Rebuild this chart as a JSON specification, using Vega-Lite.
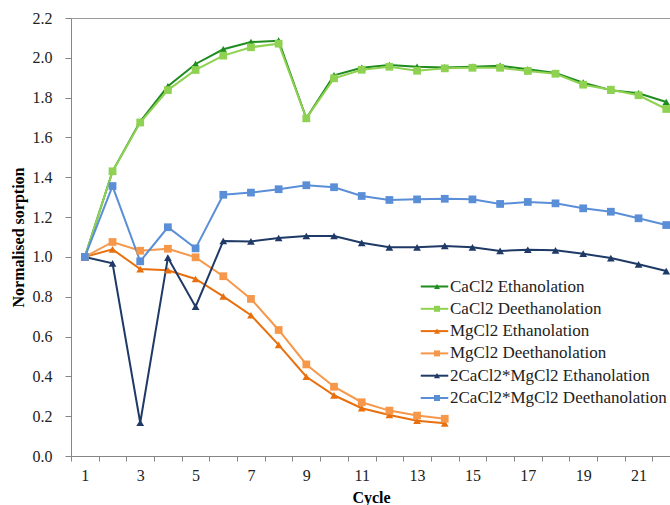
{
  "$schema": "https://vega.github.io/schema/vega-lite/v6.json",
  "autosize": {"type": "none"},
  "padding": {"left": 71, "top": 18, "right": 0, "bottom": 49},
  "width": 600,
  "height": 438,
  "background": "white",
  "config": {
    "font": "Liberation Serif",
    "view": {"stroke": "#9a9a9a", "strokeWidth": 1}
  },
  "data": {"values": [
    {"cycle": 1, "series": "CaCl2 Ethanolation", "value": 1.0},
    {"cycle": 2, "series": "CaCl2 Ethanolation", "value": 1.43},
    {"cycle": 3, "series": "CaCl2 Ethanolation", "value": 1.68},
    {"cycle": 4, "series": "CaCl2 Ethanolation", "value": 1.857},
    {"cycle": 5, "series": "CaCl2 Ethanolation", "value": 1.969},
    {"cycle": 6, "series": "CaCl2 Ethanolation", "value": 2.043},
    {"cycle": 7, "series": "CaCl2 Ethanolation", "value": 2.079},
    {"cycle": 8, "series": "CaCl2 Ethanolation", "value": 2.086},
    {"cycle": 9, "series": "CaCl2 Ethanolation", "value": 1.696},
    {"cycle": 10, "series": "CaCl2 Ethanolation", "value": 1.912},
    {"cycle": 11, "series": "CaCl2 Ethanolation", "value": 1.95},
    {"cycle": 12, "series": "CaCl2 Ethanolation", "value": 1.964},
    {"cycle": 13, "series": "CaCl2 Ethanolation", "value": 1.955},
    {"cycle": 14, "series": "CaCl2 Ethanolation", "value": 1.952},
    {"cycle": 15, "series": "CaCl2 Ethanolation", "value": 1.955},
    {"cycle": 16, "series": "CaCl2 Ethanolation", "value": 1.96},
    {"cycle": 17, "series": "CaCl2 Ethanolation", "value": 1.942},
    {"cycle": 18, "series": "CaCl2 Ethanolation", "value": 1.924},
    {"cycle": 19, "series": "CaCl2 Ethanolation", "value": 1.875},
    {"cycle": 20, "series": "CaCl2 Ethanolation", "value": 1.837},
    {"cycle": 21, "series": "CaCl2 Ethanolation", "value": 1.822},
    {"cycle": 22, "series": "CaCl2 Ethanolation", "value": 1.778},
    {"cycle": 1, "series": "CaCl2 Deethanolation", "value": 1.0},
    {"cycle": 2, "series": "CaCl2 Deethanolation", "value": 1.43},
    {"cycle": 3, "series": "CaCl2 Deethanolation", "value": 1.675},
    {"cycle": 4, "series": "CaCl2 Deethanolation", "value": 1.838},
    {"cycle": 5, "series": "CaCl2 Deethanolation", "value": 1.939},
    {"cycle": 6, "series": "CaCl2 Deethanolation", "value": 2.011},
    {"cycle": 7, "series": "CaCl2 Deethanolation", "value": 2.053},
    {"cycle": 8, "series": "CaCl2 Deethanolation", "value": 2.071},
    {"cycle": 9, "series": "CaCl2 Deethanolation", "value": 1.696},
    {"cycle": 10, "series": "CaCl2 Deethanolation", "value": 1.897},
    {"cycle": 11, "series": "CaCl2 Deethanolation", "value": 1.94},
    {"cycle": 12, "series": "CaCl2 Deethanolation", "value": 1.955},
    {"cycle": 13, "series": "CaCl2 Deethanolation", "value": 1.935},
    {"cycle": 14, "series": "CaCl2 Deethanolation", "value": 1.947},
    {"cycle": 15, "series": "CaCl2 Deethanolation", "value": 1.95},
    {"cycle": 16, "series": "CaCl2 Deethanolation", "value": 1.95},
    {"cycle": 17, "series": "CaCl2 Deethanolation", "value": 1.934},
    {"cycle": 18, "series": "CaCl2 Deethanolation", "value": 1.92},
    {"cycle": 19, "series": "CaCl2 Deethanolation", "value": 1.865},
    {"cycle": 20, "series": "CaCl2 Deethanolation", "value": 1.84},
    {"cycle": 21, "series": "CaCl2 Deethanolation", "value": 1.812},
    {"cycle": 22, "series": "CaCl2 Deethanolation", "value": 1.743},
    {"cycle": 1, "series": "MgCl2 Ethanolation", "value": 1.0},
    {"cycle": 2, "series": "MgCl2 Ethanolation", "value": 1.038},
    {"cycle": 3, "series": "MgCl2 Ethanolation", "value": 0.939},
    {"cycle": 4, "series": "MgCl2 Ethanolation", "value": 0.933},
    {"cycle": 5, "series": "MgCl2 Ethanolation", "value": 0.889},
    {"cycle": 6, "series": "MgCl2 Ethanolation", "value": 0.802},
    {"cycle": 7, "series": "MgCl2 Ethanolation", "value": 0.707},
    {"cycle": 8, "series": "MgCl2 Ethanolation", "value": 0.558},
    {"cycle": 9, "series": "MgCl2 Ethanolation", "value": 0.398},
    {"cycle": 10, "series": "MgCl2 Ethanolation", "value": 0.305},
    {"cycle": 11, "series": "MgCl2 Ethanolation", "value": 0.24},
    {"cycle": 12, "series": "MgCl2 Ethanolation", "value": 0.206},
    {"cycle": 13, "series": "MgCl2 Ethanolation", "value": 0.177},
    {"cycle": 14, "series": "MgCl2 Ethanolation", "value": 0.164},
    {"cycle": 1, "series": "MgCl2 Deethanolation", "value": 1.0},
    {"cycle": 2, "series": "MgCl2 Deethanolation", "value": 1.075},
    {"cycle": 3, "series": "MgCl2 Deethanolation", "value": 1.031},
    {"cycle": 4, "series": "MgCl2 Deethanolation", "value": 1.041},
    {"cycle": 5, "series": "MgCl2 Deethanolation", "value": 0.998},
    {"cycle": 6, "series": "MgCl2 Deethanolation", "value": 0.903},
    {"cycle": 7, "series": "MgCl2 Deethanolation", "value": 0.789},
    {"cycle": 8, "series": "MgCl2 Deethanolation", "value": 0.633},
    {"cycle": 9, "series": "MgCl2 Deethanolation", "value": 0.46},
    {"cycle": 10, "series": "MgCl2 Deethanolation", "value": 0.348},
    {"cycle": 11, "series": "MgCl2 Deethanolation", "value": 0.27},
    {"cycle": 12, "series": "MgCl2 Deethanolation", "value": 0.228},
    {"cycle": 13, "series": "MgCl2 Deethanolation", "value": 0.203},
    {"cycle": 14, "series": "MgCl2 Deethanolation", "value": 0.187},
    {"cycle": 1, "series": "2CaCl2*MgCl2 Ethanolation", "value": 1.0},
    {"cycle": 2, "series": "2CaCl2*MgCl2 Ethanolation", "value": 0.968},
    {"cycle": 3, "series": "2CaCl2*MgCl2 Ethanolation", "value": 0.167},
    {"cycle": 4, "series": "2CaCl2*MgCl2 Ethanolation", "value": 0.996},
    {"cycle": 5, "series": "2CaCl2*MgCl2 Ethanolation", "value": 0.75},
    {"cycle": 6, "series": "2CaCl2*MgCl2 Ethanolation", "value": 1.08},
    {"cycle": 7, "series": "2CaCl2*MgCl2 Ethanolation", "value": 1.078},
    {"cycle": 8, "series": "2CaCl2*MgCl2 Ethanolation", "value": 1.095},
    {"cycle": 9, "series": "2CaCl2*MgCl2 Ethanolation", "value": 1.105},
    {"cycle": 10, "series": "2CaCl2*MgCl2 Ethanolation", "value": 1.105},
    {"cycle": 11, "series": "2CaCl2*MgCl2 Ethanolation", "value": 1.071},
    {"cycle": 12, "series": "2CaCl2*MgCl2 Ethanolation", "value": 1.048},
    {"cycle": 13, "series": "2CaCl2*MgCl2 Ethanolation", "value": 1.048},
    {"cycle": 14, "series": "2CaCl2*MgCl2 Ethanolation", "value": 1.055},
    {"cycle": 15, "series": "2CaCl2*MgCl2 Ethanolation", "value": 1.048},
    {"cycle": 16, "series": "2CaCl2*MgCl2 Ethanolation", "value": 1.03},
    {"cycle": 17, "series": "2CaCl2*MgCl2 Ethanolation", "value": 1.036},
    {"cycle": 18, "series": "2CaCl2*MgCl2 Ethanolation", "value": 1.033},
    {"cycle": 19, "series": "2CaCl2*MgCl2 Ethanolation", "value": 1.016},
    {"cycle": 20, "series": "2CaCl2*MgCl2 Ethanolation", "value": 0.994},
    {"cycle": 21, "series": "2CaCl2*MgCl2 Ethanolation", "value": 0.963},
    {"cycle": 22, "series": "2CaCl2*MgCl2 Ethanolation", "value": 0.929},
    {"cycle": 1, "series": "2CaCl2*MgCl2 Deethanolation", "value": 1.0},
    {"cycle": 2, "series": "2CaCl2*MgCl2 Deethanolation", "value": 1.356},
    {"cycle": 3, "series": "2CaCl2*MgCl2 Deethanolation", "value": 0.978},
    {"cycle": 4, "series": "2CaCl2*MgCl2 Deethanolation", "value": 1.149},
    {"cycle": 5, "series": "2CaCl2*MgCl2 Deethanolation", "value": 1.043},
    {"cycle": 6, "series": "2CaCl2*MgCl2 Deethanolation", "value": 1.312},
    {"cycle": 7, "series": "2CaCl2*MgCl2 Deethanolation", "value": 1.323},
    {"cycle": 8, "series": "2CaCl2*MgCl2 Deethanolation", "value": 1.34},
    {"cycle": 9, "series": "2CaCl2*MgCl2 Deethanolation", "value": 1.36},
    {"cycle": 10, "series": "2CaCl2*MgCl2 Deethanolation", "value": 1.35},
    {"cycle": 11, "series": "2CaCl2*MgCl2 Deethanolation", "value": 1.306},
    {"cycle": 12, "series": "2CaCl2*MgCl2 Deethanolation", "value": 1.286},
    {"cycle": 13, "series": "2CaCl2*MgCl2 Deethanolation", "value": 1.289},
    {"cycle": 14, "series": "2CaCl2*MgCl2 Deethanolation", "value": 1.292},
    {"cycle": 15, "series": "2CaCl2*MgCl2 Deethanolation", "value": 1.289},
    {"cycle": 16, "series": "2CaCl2*MgCl2 Deethanolation", "value": 1.266},
    {"cycle": 17, "series": "2CaCl2*MgCl2 Deethanolation", "value": 1.276},
    {"cycle": 18, "series": "2CaCl2*MgCl2 Deethanolation", "value": 1.269},
    {"cycle": 19, "series": "2CaCl2*MgCl2 Deethanolation", "value": 1.244},
    {"cycle": 20, "series": "2CaCl2*MgCl2 Deethanolation", "value": 1.227},
    {"cycle": 21, "series": "2CaCl2*MgCl2 Deethanolation", "value": 1.194},
    {"cycle": 22, "series": "2CaCl2*MgCl2 Deethanolation", "value": 1.16}
  ]},
  "encoding": {
    "x": {
      "field": "cycle", "type": "quantitative",
      "scale": {"domain": [0.5, 22.172], "nice": false, "zero": false},
      "axis": {
        "title": "Cycle",
        "titleFont": "Liberation Serif", "titleFontSize": 16, "titleFontWeight": "bold", "titleColor": "#000",
        "titlePadding": 6,
        "values": [0.5,1.5,2.5,3.5,4.5,5.5,6.5,7.5,8.5,9.5,10.5,11.5,12.5,13.5,14.5,15.5,16.5,17.5,18.5,19.5,20.5,21.5],
        "labelExpr": "(datum.value + 0.5) % 2 == 1 ? format(datum.value + 0.5, 'd') : ''",
        "labelOffset": 13.85,
        "labelFlush": false, "labelOverlap": false, "labelBound": false,
        "labelFont": "Liberation Serif", "labelFontSize": 16, "labelColor": "#222",
        "labelPadding": 6,
        "grid": false, "tickSize": 5, "tickColor": "#868686", "domainColor": "#868686"
      }
    },
    "y": {
      "field": "value", "type": "quantitative",
      "scale": {"domain": [0, 2.2], "nice": false},
      "axis": {
        "title": "Normalised sorption",
        "titleFont": "Liberation Serif", "titleFontSize": 16, "titleFontWeight": "bold", "titleColor": "#000",
        "titlePadding": 6,
        "values": [0, 0.2, 0.4, 0.6, 0.8, 1.0, 1.2, 1.4, 1.6, 1.8, 2.0, 2.2],
        "format": ".1f",
        "labelFont": "Liberation Serif", "labelFontSize": 16, "labelColor": "#222",
        "labelPadding": 13,
        "grid": false, "tickSize": 6, "tickColor": "#868686", "domainColor": "#868686"
      }
    }
  },
  "layer": [
    {
      "mark": {"type": "line", "strokeWidth": 2},
      "encoding": {
        "color": {
          "field": "series", "type": "nominal",
          "sort": ["CaCl2 Ethanolation", "CaCl2 Deethanolation", "MgCl2 Ethanolation", "MgCl2 Deethanolation", "2CaCl2*MgCl2 Ethanolation", "2CaCl2*MgCl2 Deethanolation"],
          "scale": {"range": ["#1f8c1f", "#8fd151", "#e8700e", "#f7974a", "#1f3a66", "#5a8fd8"]},
          "legend": {
            "title": null, "orient": "none", "legendX": 355, "legendY": 260,
            "padding": 0, "rowPadding": 4.3,
            "symbolType": "M-2.5,0H2.5", "symbolSize": 121, "symbolStrokeWidth": 2,
            "labelOffset": 7, "labelLimit": 400,
            "labelFont": "Liberation Serif", "labelFontSize": 17, "labelColor": "#222"
          }
        }
      }
    },
    {
      "mark": {"type": "point", "filled": true, "size": 60, "opacity": 1, "strokeWidth": 0},
      "encoding": {
        "fill": {
          "field": "series", "type": "nominal",
          "scale": {
            "domain": ["CaCl2 Ethanolation", "CaCl2 Deethanolation", "MgCl2 Ethanolation", "MgCl2 Deethanolation", "2CaCl2*MgCl2 Ethanolation", "2CaCl2*MgCl2 Deethanolation"],
            "range": ["#1f8c1f", "#8fd151", "#e8700e", "#f7974a", "#1f3a66", "#5a8fd8"]
          },
          "legend": {
            "title": null, "orient": "none", "legendX": 357.5, "legendY": 260,
            "padding": 0, "rowPadding": 4.3, "symbolSize": 36, "symbolStrokeWidth": 0,
            "labelExpr": "''",
            "labelFont": "Liberation Serif", "labelFontSize": 17
          }
        },
        "shape": {
          "field": "series", "type": "nominal",
          "scale": {
            "domain": ["CaCl2 Ethanolation", "CaCl2 Deethanolation", "MgCl2 Ethanolation", "MgCl2 Deethanolation", "2CaCl2*MgCl2 Ethanolation", "2CaCl2*MgCl2 Deethanolation"],
            "range": ["triangle-up", "square", "triangle-up", "square", "triangle-up", "square"]
          },
          "legend": {
            "title": null, "orient": "none", "legendX": 357.5, "legendY": 260,
            "padding": 0, "rowPadding": 4.3, "symbolSize": 36, "symbolStrokeWidth": 0,
            "labelExpr": "''",
            "labelFont": "Liberation Serif", "labelFontSize": 17
          }
        }
      }
    }
  ]
}
